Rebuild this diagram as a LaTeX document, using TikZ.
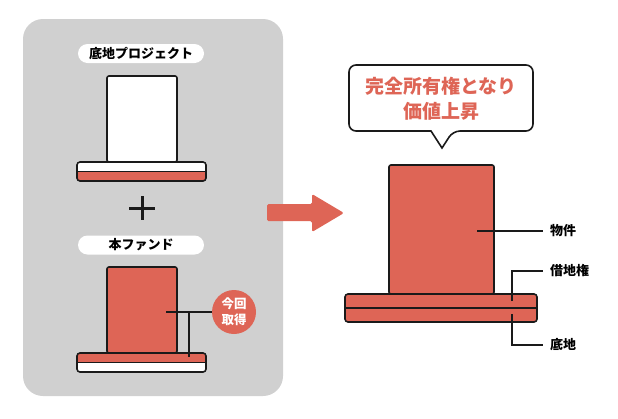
\documentclass[tikz,border=0pt]{standalone}
\usepackage{fontspec}
\setmainfont{Noto Sans CJK JP}
\definecolor{accent}{HTML}{DE6556}
\definecolor{panel}{HTML}{D0D0D0}
\definecolor{ink}{HTML}{1A1A1A}
\tikzset{
  ol/.style={draw=ink, line width=1.6pt},
  thinl/.style={draw=ink, line width=1.4pt},
  pill/.style={fill=white, rounded corners=9.5pt, minimum width=126pt, minimum height=19pt, inner sep=0pt,
    font=\fontsize{13}{15}\selectfont\bfseries, text=black},
  lbl/.style={anchor=west, inner xsep=7pt, inner ysep=0pt, font=\fontsize{13}{14}\selectfont\bfseries, text=black},
}
\begin{document}
\begin{tikzpicture}[x=1pt,y=-1pt]
\useasboundingbox (0,0) rectangle (618,418);
% left panel
\fill[panel, rounded corners=20pt] (23,19) rectangle (283,396);
% top: 底地プロジェクト
\node[pill] (p1) at (141,53.5) {底地プロジェクト};
\draw[ol, fill=white, rounded corners=2pt] (107,76) rectangle (177,162);
\begin{scope}
\clip[rounded corners=3pt] (77,162) rectangle (206,181);
\fill[white] (77,162) rectangle (206,171.5);
\fill[accent] (77,171.5) rectangle (206,181);
\end{scope}
\draw[thinl, line width=1pt] (77,171.5) -- (206,171.5);
\draw[ol, rounded corners=3pt] (77,162) rectangle (206,181);
% plus
\draw[ink, line width=3pt] (129,208) -- (155,208) (142,196) -- (142,220);
% bottom: 本ファンド
\node[pill] (p2) at (141,245) {本ファンド};
\draw[ol, fill=accent, rounded corners=2pt] (107,267) rectangle (177,353);
\begin{scope}
\clip[rounded corners=3pt] (77,353) rectangle (206,372);
\fill[accent] (77,353) rectangle (206,362.5);
\fill[white] (77,362.5) rectangle (206,372);
\end{scope}
\draw[thinl, line width=1pt] (77,362.5) -- (206,362.5);
\draw[ol, rounded corners=3pt] (77,353) rectangle (206,372);
\node[circle, fill=accent, minimum size=44pt, inner sep=0pt, align=center, text=white,
  font=\fontsize{12.5}{16}\selectfont\bfseries] (get) at (234,312) {今回\\取得};
\coordinate (b1) at (166,312);
\coordinate (b2) at (189,312);
\coordinate (b3) at (189,357);
\draw[thinl] (b1) -- (get.west);
\draw[thinl] (b2) -- (b3);
% arrow
\fill[accent, rounded corners=1.5pt] (267,204) -- (312,204) -- (312,194) -- (344,213) -- (312,232) -- (312,221) -- (267,221) -- cycle;
% bubble
\draw[ol, fill=white, rounded corners=7pt] (431,131) -- (349,131) -- (349,65) -- (533,65) -- (533,131) -- (453,131) [sharp corners] -- (442,148) -- (431,131) -- cycle;
\node[align=center, text=accent, font=\fontsize{19}{25}\selectfont\bfseries] (msg) at (441,99) {完全所有権となり\\価値上昇};
% right building
\draw[ol, fill=accent, rounded corners=2pt] (389,165) rectangle (494,294);
\draw[ol, fill=accent, rounded corners=3pt] (345,294) rectangle (537,322);
\draw[ol] (345,308) -- (537,308);
% labels
\node[lbl] (l1) at (543,231) {物件};
\node[lbl] (l2) at (543,271) {借地権};
\node[lbl] (l3) at (543,345) {底地};
\coordinate (c1) at (477,231);
\coordinate (c2) at (512,301);
\coordinate (c3) at (512,314);
\draw[thinl] (c1) -- (l1.west);
\draw[thinl] (c2) |- (l2.west);
\draw[thinl] (c3) |- (l3.west);
\end{tikzpicture}
\end{document}
